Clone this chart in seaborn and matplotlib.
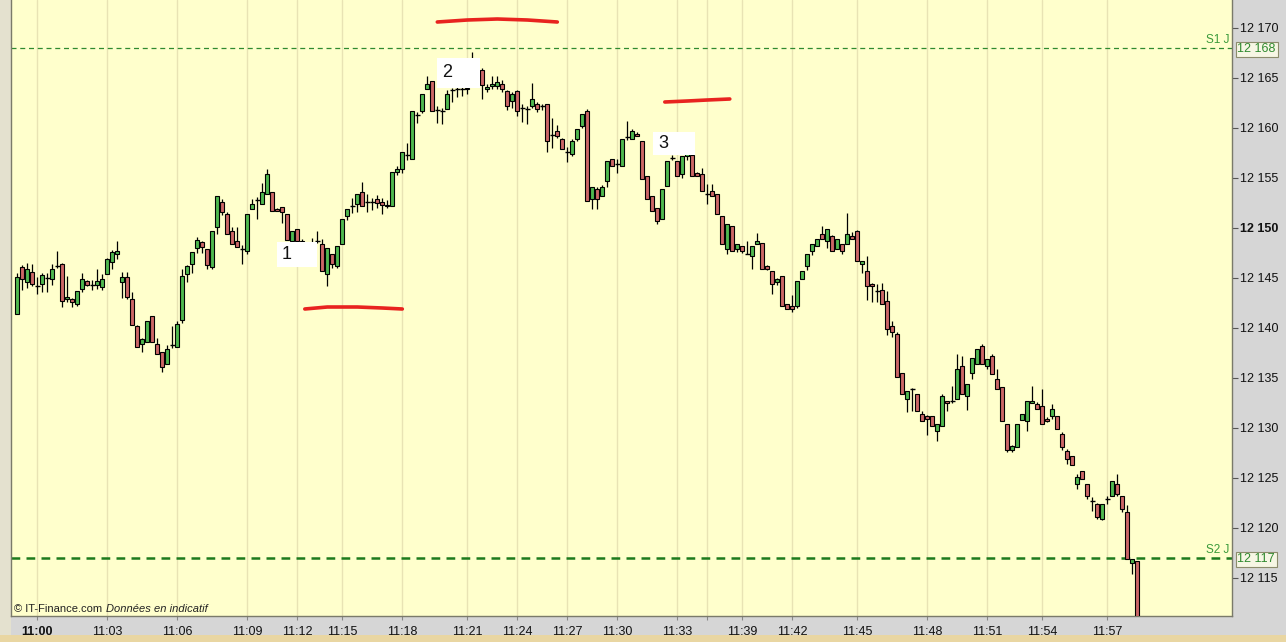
import matplotlib
matplotlib.use("Agg")
import matplotlib.pyplot as plt
import matplotlib.transforms as mtransforms
from matplotlib.patches import Rectangle
import pandas as pd
import seaborn as sns

# OHLC of each bar (one bar every ~5 px, 11:00 -> 11:58)
opens = [
    12141.4, 12146.1, 12144.6, 12145.6, 12144.2, 12144.4, 12145.0, 12144.9, 12146.2, 12146.4,
    12142.9, 12142.9, 12142.4, 12143.9, 12144.7, 12144.3, 12144.3, 12144.1, 12145.4, 12146.6,
    12147.4, 12144.6, 12145.1, 12142.9, 12140.2, 12138.4, 12138.6, 12141.2, 12138.4, 12137.6,
    12136.4, 12138.3, 12138.1, 12140.8, 12145.4, 12146.4, 12148.0, 12148.6, 12147.9, 12146.1,
    12150.1, 12152.6, 12151.4, 12149.7, 12148.7, 12147.9, 12147.7, 12151.9, 12152.8, 12152.4,
    12153.4, 12153.6, 12151.9, 12152.1, 12151.4, 12148.7, 12149.9, 12148.7, 12147.2, 12148.0,
    12148.7, 12148.4, 12145.4, 12147.4, 12146.2, 12148.4, 12151.2, 12152.2, 12152.4, 12153.6,
    12152.6, 12152.6, 12152.9, 12152.6, 12152.2, 12152.2, 12155.6, 12155.9, 12157.3, 12156.9,
    12161.3, 12161.7, 12163.9, 12164.7, 12161.8, 12161.7, 12161.9, 12163.8, 12163.9, 12163.9,
    12163.9, 12164.5, 12165.5, 12165.8, 12163.9, 12164.2, 12164.2, 12164.4, 12163.7, 12162.7,
    12163.7, 12162.0, 12161.9, 12162.2, 12162.4, 12162.2, 12162.4, 12159.3, 12159.7, 12158.9,
    12157.6, 12157.4, 12158.9, 12160.2, 12161.7, 12152.9, 12153.9, 12153.2, 12154.7, 12156.9,
    12156.4, 12156.2, 12159.1, 12158.9, 12159.4, 12158.7, 12155.2, 12153.2, 12152.0, 12150.9,
    12154.2, 12157.0, 12156.7, 12155.4, 12157.2, 12157.3, 12155.5, 12155.4, 12153.4, 12153.7,
    12153.4, 12151.2, 12147.9, 12150.2, 12147.9, 12148.2, 12147.4, 12147.2, 12148.4, 12148.5,
    12146.2, 12145.7, 12144.6, 12145.2, 12142.4, 12142.2, 12142.2, 12144.9, 12146.2, 12147.7,
    12148.2, 12149.4, 12148.7, 12149.2, 12147.9, 12148.4, 12148.4, 12149.2, 12149.7, 12146.4,
    12145.7, 12144.4, 12143.7, 12143.8, 12142.7, 12140.2, 12139.4, 12135.5, 12132.9, 12133.9,
    12133.4, 12131.4, 12131.2, 12131.2, 12129.7, 12130.2, 12132.7, 12132.7, 12132.9, 12136.2,
    12133.2, 12135.5, 12136.4, 12138.2, 12136.2, 12137.2, 12134.9, 12134.1, 12130.4, 12127.8,
    12128.1, 12130.8, 12130.7, 12132.5, 12132.4, 12132.2, 12130.9, 12131.2, 12131.2, 12129.4,
    12127.7, 12127.2, 12124.4, 12125.7, 12124.4, 12122.7, 12122.4, 12120.9, 12122.9, 12123.2,
    12124.4, 12123.2, 12121.6, 12116.5, 12116.7,
]
highs = [
    12145.5, 12146.3, 12146.5, 12146.4, 12145.1, 12145.5, 12145.5, 12146.4, 12147.7, 12146.5,
    12145.2, 12143.0, 12143.7, 12145.5, 12144.8, 12144.8, 12145.9, 12145.4, 12147.0, 12147.8,
    12148.7, 12145.6, 12145.6, 12143.6, 12140.3, 12139.0, 12140.7, 12141.2, 12139.0, 12137.6,
    12138.3, 12140.2, 12140.7, 12145.9, 12146.3, 12147.6, 12149.1, 12148.7, 12147.9, 12149.7,
    12153.2, 12152.9, 12151.6, 12150.1, 12150.1, 12148.3, 12151.4, 12152.9, 12153.1, 12154.5,
    12155.9, 12153.6, 12152.0, 12152.1, 12151.4, 12149.7, 12149.9, 12148.9, 12148.2, 12149.0,
    12149.7, 12148.9, 12148.0, 12147.4, 12148.2, 12150.9, 12151.9, 12153.0, 12153.4, 12154.6,
    12153.4, 12153.0, 12153.3, 12153.0, 12152.8, 12155.6, 12156.2, 12157.6, 12158.5, 12161.7,
    12161.6, 12163.4, 12165.2, 12164.7, 12162.2, 12162.0, 12163.8, 12164.0, 12164.3, 12164.4,
    12164.5, 12167.6, 12166.0, 12166.0, 12164.4, 12165.2, 12165.2, 12164.8, 12163.8, 12163.6,
    12163.8, 12162.4, 12162.2, 12164.5, 12162.6, 12162.4, 12162.4, 12161.0, 12160.3, 12159.0,
    12158.1, 12158.9, 12159.9, 12161.4, 12161.9, 12154.1, 12154.1, 12154.3, 12156.7, 12156.9,
    12156.9, 12158.9, 12160.7, 12159.9, 12159.6, 12158.7, 12155.2, 12153.2, 12152.0, 12153.9,
    12156.7, 12157.3, 12156.7, 12157.2, 12158.0, 12157.6, 12155.6, 12156.0, 12154.4, 12154.4,
    12153.4, 12151.2, 12150.4, 12150.2, 12148.4, 12148.2, 12148.7, 12148.2, 12149.5, 12148.5,
    12146.3, 12145.7, 12145.0, 12145.2, 12142.4, 12143.3, 12144.7, 12145.7, 12147.4, 12148.4,
    12148.9, 12150.2, 12149.9, 12149.3, 12148.9, 12148.4, 12151.5, 12149.6, 12149.8, 12146.7,
    12147.2, 12144.5, 12144.4, 12144.5, 12143.7, 12140.7, 12139.6, 12135.5, 12133.7, 12134.0,
    12133.4, 12131.7, 12131.3, 12131.2, 12130.4, 12133.4, 12132.7, 12134.2, 12137.4, 12137.2,
    12134.4, 12137.0, 12137.9, 12138.4, 12136.9, 12137.4, 12135.9, 12134.1, 12130.4, 12128.3,
    12130.4, 12131.4, 12132.7, 12134.2, 12132.6, 12133.9, 12131.1, 12132.4, 12131.2, 12129.6,
    12127.9, 12127.2, 12125.4, 12125.7, 12124.4, 12123.1, 12122.5, 12122.4, 12123.2, 12124.7,
    12125.4, 12123.2, 12122.3, 12116.9, 12116.7,
]
lows = [
    12141.4, 12143.8, 12144.0, 12144.2, 12143.4, 12143.6, 12143.6, 12144.3, 12146.0, 12142.1,
    12142.6, 12142.1, 12142.2, 12143.6, 12144.2, 12143.8, 12143.9, 12143.8, 12145.4, 12145.9,
    12146.9, 12143.0, 12142.9, 12140.3, 12138.1, 12137.6, 12138.6, 12138.6, 12137.4, 12135.6,
    12136.4, 12138.0, 12138.1, 12140.5, 12144.6, 12145.5, 12147.5, 12147.5, 12145.9, 12145.9,
    12149.4, 12151.3, 12149.4, 12148.4, 12148.1, 12146.4, 12147.4, 12151.9, 12150.9, 12152.4,
    12153.4, 12151.7, 12151.7, 12150.5, 12148.8, 12148.7, 12148.5, 12147.0, 12147.0, 12147.6,
    12148.5, 12145.7, 12144.2, 12146.0, 12146.0, 12148.4, 12150.8, 12151.5, 12151.6, 12152.2,
    12151.6, 12151.8, 12152.0, 12151.4, 12152.0, 12152.2, 12155.3, 12155.5, 12156.8, 12156.9,
    12160.5, 12161.5, 12163.9, 12161.7, 12160.5, 12160.4, 12161.9, 12162.6, 12163.1, 12163.2,
    12163.4, 12164.2, 12164.8, 12162.9, 12163.6, 12163.9, 12163.9, 12163.6, 12161.8, 12162.0,
    12161.2, 12160.6, 12160.4, 12162.0, 12161.6, 12161.8, 12157.6, 12158.0, 12159.0, 12157.9,
    12156.6, 12157.2, 12158.7, 12160.0, 12152.7, 12151.9, 12151.9, 12153.2, 12154.1, 12156.2,
    12155.5, 12156.2, 12158.8, 12158.9, 12159.2, 12154.9, 12152.9, 12151.7, 12150.4, 12150.9,
    12154.2, 12156.8, 12155.2, 12155.0, 12156.8, 12155.2, 12155.2, 12153.7, 12152.4, 12153.2,
    12151.4, 12148.4, 12147.4, 12147.7, 12147.6, 12147.5, 12147.4, 12145.9, 12148.4, 12145.9,
    12145.8, 12143.4, 12144.3, 12142.2, 12141.9, 12141.6, 12142.0, 12144.9, 12145.8, 12147.3,
    12148.2, 12148.9, 12148.0, 12147.7, 12147.9, 12147.4, 12148.4, 12148.9, 12146.7, 12145.5,
    12142.8, 12142.6, 12142.6, 12142.4, 12139.3, 12139.1, 12135.1, 12133.4, 12131.6, 12131.7,
    12131.7, 12130.7, 12129.3, 12130.2, 12128.7, 12130.2, 12131.7, 12132.5, 12132.9, 12133.4,
    12131.8, 12134.9, 12136.4, 12136.4, 12135.9, 12135.4, 12133.9, 12130.7, 12127.6, 12127.6,
    12128.1, 12130.8, 12129.7, 12132.5, 12131.9, 12130.4, 12130.6, 12130.9, 12129.9, 12127.8,
    12126.4, 12126.3, 12123.9, 12124.9, 12122.9, 12121.7, 12120.9, 12120.8, 12122.4, 12123.2,
    12123.2, 12121.6, 12116.9, 12115.4, 12108.0,
]
closes = [
    12145.1, 12144.9, 12145.9, 12144.4, 12144.2, 12145.3, 12145.0, 12145.9, 12146.2, 12142.7,
    12143.1, 12142.6, 12143.7, 12144.9, 12144.3, 12144.3, 12144.7, 12144.9, 12146.9, 12147.6,
    12147.7, 12145.1, 12143.1, 12140.3, 12138.1, 12138.9, 12140.7, 12138.6, 12137.4, 12136.1,
    12137.9, 12138.3, 12140.4, 12145.2, 12146.2, 12147.6, 12148.8, 12148.1, 12146.3, 12149.7,
    12153.2, 12151.6, 12149.4, 12148.4, 12148.1, 12147.9, 12151.4, 12152.4, 12152.8, 12153.6,
    12155.4, 12151.7, 12151.7, 12151.6, 12148.8, 12149.7, 12148.7, 12147.2, 12148.0, 12148.2,
    12148.7, 12145.7, 12148.0, 12146.4, 12148.2, 12150.9, 12151.9, 12152.2, 12153.4, 12152.2,
    12152.6, 12152.6, 12152.5, 12152.3, 12152.3, 12155.6, 12155.9, 12157.6, 12157.3, 12161.7,
    12161.3, 12163.4, 12164.4, 12161.7, 12161.8, 12161.7, 12163.4, 12163.8, 12163.9, 12163.9,
    12164.0, 12165.5, 12165.8, 12164.3, 12164.1, 12164.4, 12164.6, 12163.9, 12162.2, 12163.4,
    12161.7, 12162.0, 12161.9, 12162.9, 12161.9, 12162.2, 12158.7, 12159.3, 12159.2, 12157.9,
    12157.6, 12158.7, 12159.9, 12161.4, 12152.7, 12154.1, 12152.9, 12154.1, 12156.7, 12156.2,
    12156.4, 12158.9, 12159.1, 12159.7, 12159.2, 12154.9, 12152.9, 12151.7, 12150.7, 12153.9,
    12156.7, 12157.0, 12155.2, 12157.2, 12157.5, 12155.2, 12155.2, 12153.7, 12153.4, 12153.2,
    12151.4, 12148.4, 12150.4, 12147.7, 12148.4, 12147.7, 12147.4, 12148.2, 12148.7, 12145.9,
    12145.9, 12144.4, 12144.9, 12142.2, 12141.9, 12141.9, 12144.7, 12145.7, 12147.4, 12148.4,
    12148.9, 12148.9, 12149.9, 12147.7, 12148.9, 12147.7, 12149.4, 12148.9, 12146.7, 12146.7,
    12144.2, 12144.2, 12143.7, 12142.4, 12139.9, 12139.6, 12135.1, 12133.4, 12133.7, 12133.9,
    12131.7, 12130.7, 12130.9, 12130.2, 12130.4, 12133.2, 12132.5, 12132.7, 12135.9, 12133.4,
    12134.4, 12137.0, 12137.9, 12136.4, 12136.9, 12135.4, 12133.9, 12130.7, 12127.8, 12128.2,
    12130.4, 12131.4, 12132.7, 12132.7, 12131.9, 12130.4, 12130.7, 12131.9, 12129.9, 12128.1,
    12126.9, 12126.3, 12125.1, 12124.9, 12123.2, 12122.7, 12121.1, 12122.4, 12122.9, 12124.7,
    12123.4, 12121.9, 12116.9, 12116.9, 12108.0,
]

# time axis: bar index of each grid line and its label (11:36 has no label)
tick_idx = [4, 18, 32, 46, 56, 65, 77, 90, 100, 110, 120, 132, 138, 145, 155, 168, 182, 194, 205, 218]
tick_labels = ["11:00", "11:03", "11:06", "11:09", "11:12", "11:15", "11:18", "11:21", "11:24",
               "11:27", "11:30", "11:33", "", "11:39", "11:42", "11:45", "11:48", "11:51", "11:54", "11:57"]
price_ticks = [12115, 12120, 12125, 12130, 12135, 12140, 12145, 12150, 12155, 12160, 12165, 12170]

# daily support / resistance levels
s1_level = 12168
s2_level = 12117

# hand drawn red strokes (bar index, price)
stroke_top_x = [84, 90, 96, 102, 108]
stroke_top_y = [12170.6, 12170.8, 12170.9, 12170.8, 12170.6]
stroke_mid_x = [129.5, 134, 138, 142.5]
stroke_mid_y = [12162.6, 12162.7, 12162.8, 12162.9]
stroke_low_x = [57.5, 62, 68, 73, 77]
stroke_low_y = [12141.9, 12142.1, 12142.1, 12142.0, 12141.9]

# numbered labels: text, left bar, right bar, top price, bottom price
label_text = ["1", "2", "3"]
label_x0 = [51.9, 84.0, 127.2]
label_x1 = [59.9, 92.5, 135.5]
label_ytop = [12148.6, 12167.0, 12159.6]
label_ybot = [12146.1, 12164.0, 12157.3]

df = pd.DataFrame({"open": opens, "high": highs, "low": lows, "close": closes})
df["idx"] = range(len(df))

sns.set_theme(style="white")
plt.rcParams["font.family"] = ["Liberation Sans", "DejaVu Sans"]

W, H = 1286, 642
fig = plt.figure(figsize=(W / 100, H / 100), dpi=100)
fig.patch.set_facecolor("#d6d6d6")

left, right, bottom = 11, 1232, 616
ax = fig.add_axes([left / W, (H - bottom) / H, (right - left) / W, bottom / H])
ax.set_facecolor("#ffffcc")

# bar index <-> pixel: x = 17.3 + 5 * i ; price <-> pixel: y = (12172.8 - p) * 10
ax.set_xlim((left - 17.3) / 5, (right - 17.3) / 5)
ax.set_ylim(12172.8 - bottom / 10, 12172.8)

# vertical grid
for t in tick_idx:
    ax.axvline(t, color="#e8e3b4", lw=1, zorder=0)

# wicks
ax.vlines(df["idx"], df["low"], df["high"], color="black", lw=0.9, zorder=2)

up = df[df["close"] > df["open"]]
down = df[df["close"] < df["open"]]
flat = df[df["close"] == df["open"]]
ax.bar(up["idx"], up["close"] - up["open"], bottom=up["open"], width=0.8,
       color="#4fb84f", edgecolor="black", linewidth=0.8, zorder=3)
ax.bar(down["idx"], down["open"] - down["close"], bottom=down["close"], width=0.8,
       color="#cc6666", edgecolor="black", linewidth=0.8, zorder=3)
ax.hlines(flat["close"], flat["idx"] - 0.45, flat["idx"] + 0.45, color="black", lw=1.0, zorder=3)

# support / resistance lines
ax.axhline(s1_level, color="#2f8a2f", lw=0.9, ls=(0, (4, 3)), zorder=1)
ax.axhline(s2_level, color="#1d7a1d", lw=1.8, ls=(0, (3.5, 2.5)), zorder=1)
xr = (right - 3 - 17.3) / 5
ax.text(xr, s1_level + 0.2, "S1 J", color="#3a9a3a", fontsize=8.5, ha="right", va="bottom")
ax.text(xr, s2_level + 0.2, "S2 J", color="#3a9a3a", fontsize=8.5, ha="right", va="bottom")

# hand drawn strokes
for sx, sy in [(stroke_top_x, stroke_top_y), (stroke_mid_x, stroke_mid_y), (stroke_low_x, stroke_low_y)]:
    ax.plot(sx, sy, color="#e8231f", lw=2.6, solid_capstyle="round", zorder=6)

# numbered white labels
for t, x0, x1, yt, yb in zip(label_text, label_x0, label_x1, label_ytop, label_ybot):
    ax.add_patch(Rectangle((x0, yb), x1 - x0, yt - yb, facecolor="white", edgecolor="none", zorder=5))
    ax.text(x0 + 1.0, (yt + yb) / 2, t, fontsize=13, color="#111111", va="center", ha="left", zorder=7)

# copyright text
ax.text((14 - 17.3) / 5, 12172.8 - 609 / 10, "\u00a9 IT-Finance.com",
        fontsize=8, color="#222222", va="center", ha="left")
ax.text((106 - 17.3) / 5, 12172.8 - 609 / 10, "Donn\u00e9es en indicatif",
        fontsize=8, color="#222222", va="center", ha="left", style="italic")

# price axis on the right
ax.yaxis.tick_right()
ax.set_yticks(price_ticks)
ax.set_yticklabels([f"{p:,}".replace(",", " ") for p in price_ticks])
for lab, p in zip(ax.get_yticklabels(), price_ticks):
    if p == 12150:
        lab.set_fontweight("bold")
ax.tick_params(axis="y", which="major", right=True, length=4, width=0.8, color="#555555",
               labelsize=9, labelcolor="#111111", pad=2)

ax.set_xticks(tick_idx)
ax.set_xticklabels(tick_labels)
ax.get_xticklabels()[0].set_fontweight("bold")
ax.tick_params(axis="x", which="major", bottom=True, length=3, width=0.8, color="#888888",
               labelsize=9, labelcolor="#111111", pad=4)

for side in ["left", "right", "bottom"]:
    ax.spines[side].set_color("#7a7a6a")
    ax.spines[side].set_linewidth(1.0)
ax.spines["top"].set_visible(False)

# current level boxes on the price axis
trans = mtransforms.blended_transform_factory(ax.transAxes, ax.transData)
for lvl in [s1_level, s2_level]:
    ax.text(1.0045, lvl - 0.15, f"{lvl:,}".replace(",", " "), transform=trans, fontsize=9,
            color="#2f8a2f", va="center", ha="left", clip_on=False, zorder=8,
            bbox=dict(boxstyle="square,pad=0.15", facecolor="#f6f6e4", edgecolor="#8c8c6c", lw=0.8))

# left strip and bottom band
fig.add_artist(Rectangle((0, 0), left / W, 1, transform=fig.transFigure,
                         facecolor="#e4e1cf", edgecolor="none", zorder=-1))
fig.add_artist(Rectangle((0, 0), 1, 7 / H, transform=fig.transFigure,
                         facecolor="#e9d6a2", edgecolor="none"))

fig.savefig("out.png", dpi=100, facecolor=fig.get_facecolor())
